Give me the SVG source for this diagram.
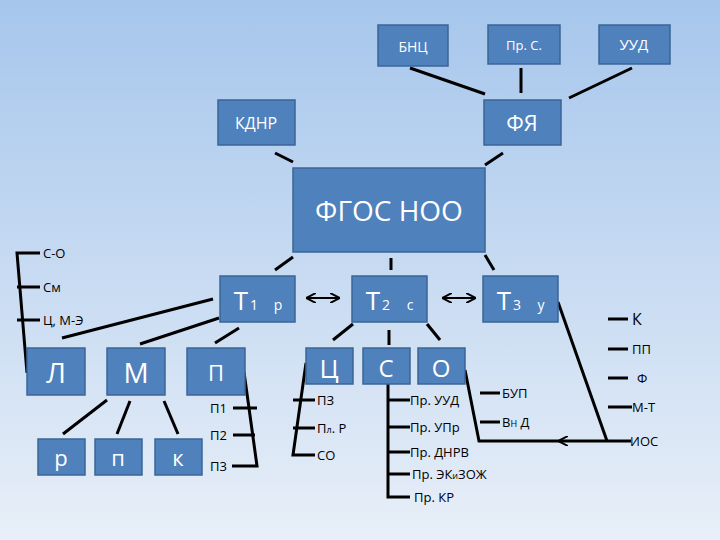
<svg xmlns="http://www.w3.org/2000/svg" width="720" height="540" viewBox="0 0 720 540">
<defs>
<linearGradient id="bg" x1="0" y1="0" x2="0" y2="1"><stop offset="0" stop-color="#a6c6ec"/><stop offset="1" stop-color="#e8eff8"/></linearGradient>
<marker id="ah" viewBox="0 0 10 10" refX="9" refY="5" markerWidth="10" markerHeight="10" markerUnits="userSpaceOnUse" orient="auto-start-reverse"><path d="M0,0L10,5L0,10" fill="none" stroke="#000" stroke-width="2"/></marker>
<style>
rect{fill:#4f81bd;stroke:#3b6597;stroke-width:1.5}
.w{fill:#fff;font-family:"Open Sans","DejaVu Sans",sans-serif;text-anchor:middle}
.k{fill:#000;font-family:"Open Sans","DejaVu Sans",sans-serif;font-size:13px}
#c line,#c polyline{stroke:#000;stroke-width:3;fill:none}
</style>
</defs>
<rect x="0" y="0" width="720" height="540" style="fill:url(#bg);stroke:none"/>
<g id="c">
<line x1="410" y1="68" x2="485" y2="94"/><line x1="521" y1="68" x2="521" y2="93"/><line x1="569" y1="98" x2="632" y2="68"/>
<line x1="275" y1="153" x2="293" y2="162"/><line x1="485" y1="165" x2="503" y2="153"/>
<line x1="293" y1="257" x2="275" y2="270"/><line x1="391" y1="258" x2="391" y2="270"/><line x1="485" y1="255" x2="494" y2="270"/>
<line x1="307" y1="298" x2="339" y2="298" marker-start="url(#ah)" marker-end="url(#ah)" style="stroke-width:2"/>
<line x1="443" y1="298" x2="475" y2="298" marker-start="url(#ah)" marker-end="url(#ah)" style="stroke-width:2"/>
<line x1="62" y1="338" x2="213" y2="299"/><line x1="140" y1="344" x2="219" y2="318"/><line x1="215" y1="343" x2="239" y2="328"/>
<polyline points="40,253 17,253 27,373"/><line x1="17" y1="287" x2="40" y2="287"/><line x1="17" y1="320" x2="40" y2="320"/>
<line x1="63" y1="434" x2="107" y2="400"/><line x1="117" y1="434" x2="130" y2="401"/><line x1="178" y1="434" x2="164" y2="401"/>
<polyline points="244,372 257,466 232,466"/><line x1="233" y1="408" x2="257" y2="408"/><line x1="233" y1="435" x2="255" y2="435"/>
<line x1="333" y1="340" x2="353" y2="324"/><line x1="389" y1="330" x2="389" y2="345"/><line x1="427" y1="324" x2="440" y2="340"/>
<polyline points="306,363 293,455 315,455"/><line x1="293" y1="400" x2="315" y2="400"/><line x1="293" y1="428" x2="315" y2="428"/>
<polyline points="388,384 388,497 410,497"/><line x1="388" y1="400" x2="410" y2="400"/><line x1="388" y1="427" x2="410" y2="427"/><line x1="388" y1="452" x2="410" y2="452"/><line x1="388" y1="474" x2="410" y2="474"/>
<polyline points="465,370 479,441 606,441"/><line x1="560" y1="441" x2="559" y2="441" marker-end="url(#ah)" style="stroke-width:2"/>
<line x1="558" y1="302" x2="607" y2="441"/><line x1="606" y1="441" x2="631" y2="441"/>
<line x1="608" y1="319" x2="628" y2="319"/><line x1="608" y1="349" x2="628" y2="349"/><line x1="608" y1="378" x2="628" y2="378"/><line x1="608" y1="407" x2="632" y2="407"/>
<line x1="480" y1="393" x2="500" y2="393"/><line x1="480" y1="422" x2="500" y2="422"/>
</g>
<g id="bnc"><rect x="378" y="25" width="70" height="41"/><text class="w" x="413" y="52" font-size="14">БНЦ</text></g>
<g id="prs"><rect x="488" y="25" width="72" height="39"/><text class="w" x="524" y="50" font-size="13">Пр. С.</text></g>
<g id="uud"><rect x="599" y="25" width="71" height="39"/><text class="w" x="634" y="50" font-size="15">УУД</text></g>
<g id="kdnr"><rect x="218" y="100" width="77" height="45"/><text class="w" x="256" y="129" font-size="16">КДНР</text></g>
<g id="fya"><rect x="484" y="100" width="77" height="45"/><text class="w" x="522" y="131" font-size="22">ФЯ</text></g>
<g id="fgos"><rect x="293" y="168" width="192" height="84"/><text class="w" x="389" y="221" font-size="28">ФГОС НОО</text></g>
<g id="t1"><rect x="220" y="276" width="75" height="46"/><text class="w" x="241" y="310" font-size="26">Т</text><text class="w" x="254" y="310" font-size="14">1</text><text class="w" x="278" y="310" font-size="14">р</text></g>
<g id="t2"><rect x="352" y="276" width="75" height="46"/><text class="w" x="373" y="310" font-size="26">Т</text><text class="w" x="386" y="310" font-size="14">2</text><text class="w" x="410" y="310" font-size="14">с</text></g>
<g id="t3"><rect x="483" y="276" width="75" height="46"/><text class="w" x="504" y="310" font-size="26">Т</text><text class="w" x="517" y="310" font-size="14">3</text><text class="w" x="541" y="310" font-size="14">у</text></g>
<g id="l"><rect x="27" y="348" width="58" height="47"/><text class="w" x="56" y="383" font-size="28">Л</text></g>
<g id="m"><rect x="107" y="348" width="58" height="47"/><text class="w" x="136" y="383" font-size="28">М</text></g>
<g id="p"><rect x="187" y="348" width="58" height="47"/><text class="w" x="216" y="381" font-size="22">П</text></g>
<g id="r"><rect x="38" y="439" width="47" height="36"/><text class="w" x="61" y="466" font-size="22">р</text></g>
<g id="pp"><rect x="95" y="439" width="47" height="36"/><text class="w" x="118" y="466" font-size="22">п</text></g>
<g id="kk"><rect x="155" y="439" width="47" height="36"/><text class="w" x="178" y="466" font-size="22">к</text></g>
<g id="c1"><rect x="306" y="348" width="47" height="36"/><text class="w" x="329" y="378" font-size="26">Ц</text></g>
<g id="s1"><rect x="363" y="348" width="47" height="36"/><text class="w" x="386" y="377" font-size="24">С</text></g>
<g id="o1"><rect x="418" y="348" width="47" height="36"/><text class="w" x="441" y="377" font-size="24">О</text></g>
<g id="labels" class="k">
<text x="43" y="258">С-О</text><text x="43" y="292">См</text><text x="43" y="325">Ц, М-Э</text>
<text x="210" y="413">П1</text><text x="210" y="440">П2</text><text x="210" y="471">П3</text>
<text x="317" y="405">ПЗ</text><text x="317" y="433">П<tspan font-size="9">л</tspan>. Р</text><text x="317" y="460">СО</text>
<text x="410" y="405">Пр. УУД</text><text x="410" y="432">Пр. УПр</text><text x="410" y="457">Пр. ДНРВ</text><text x="412" y="479">Пр. ЭК<tspan font-size="9">и</tspan>ЗОЖ</text><text x="414" y="502">Пр. КР</text>
<text x="502" y="398">БУП</text><text x="502" y="427">В<tspan font-size="9">Н</tspan> Д</text>
<text x="632" y="325" font-size="16">К</text><text x="632" y="354">ПП</text><text x="637" y="383">Ф</text><text x="632" y="412">М-Т</text><text x="630" y="446">ИОС</text>
</g>
</svg>
